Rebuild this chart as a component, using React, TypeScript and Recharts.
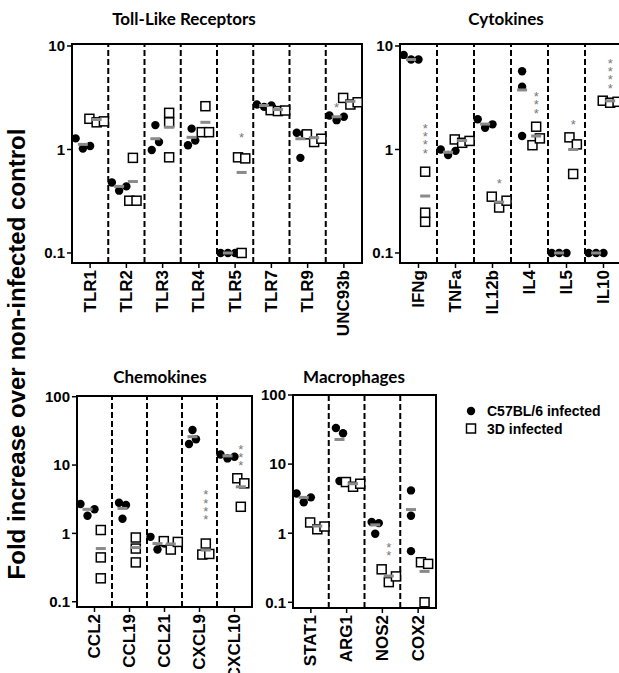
import React from "react";
import {
  ScatterChart, Scatter, XAxis, YAxis, ReferenceLine, ReferenceArea,
} from "recharts";

// Toll-like receptors
const tlrCats = ["TLR1", "TLR2", "TLR3", "TLR4", "TLR5", "TLR7", "TLR9", "UNC93b"];
const tlrC57 = [[1.28, 1.02, 1.08], [0.48, 0.4, 0.44], [0.99, 1.18, 1.72], [1.1, 1.22, 1.59], [0.1, 0.1, 0.1], [2.72, 2.58, 2.66], [1.45, 0.83, 1.42], [2.13, 1.92, 2.07]];
const tlr3D = [[1.98, 1.83, 1.87], [0.32, 0.83, 0.32], [2.26, 0.84, 1.83], [1.47, 1.47, 2.62], [0.84, 0.1, 0.82], [2.4, 2.35, 2.38], [1.4, 1.18, 1.27], [3.15, 2.72, 2.86]];
const tlrMeanC57 = [1.12, 0.44, 1.27, 1.31, 0.1, 2.66, 1.27, 2.07];
const tlrMean3D = [1.95, 0.49, 1.64, 1.83, 0.6, 2.43, 1.3, 2.92];
const tlrStars = [{ cat: 4, side: "3D", y: 1.34, n: 1 }, { cat: 7, side: "C57", y: 2.62, n: 1 }];

// Cytokines
const cytCats = ["IFNg", "TNFa", "IL12b", "IL4", "IL5", "IL10"];
const cytC57 = [[8.2, 7.4, 7.4], [1.0, 0.885, 0.97], [1.96, 1.62, 1.75], [5.7, 4.04, 1.35], [0.1, 0.1, 0.1], [0.1, 0.1, 0.1]];
const cyt3D = [[0.2, 0.245, 0.61], [1.25, 1.16, 1.21], [0.35, 0.275, 0.32], [1.1, 1.28, 1.66], [1.31, 0.58, 1.12], [2.96, 2.83, 2.89]];
const cytMeanC57 = [7.4, 0.94, 1.76, 3.76, 0.1, 0.1];
const cytMean3D = [0.355, 1.22, 0.31, 1.35, 1.0, 2.95];
const cytStars = [
  { cat: 0, side: "3D", y: 0.95, n: 4 }, { cat: 2, side: "3D", y: 0.48, n: 1 },
  { cat: 3, side: "3D", y: 2.32, n: 3 }, { cat: 4, side: "3D", y: 1.79, n: 1 },
  { cat: 5, side: "3D", y: 4.04, n: 4 },
];

// Chemokines
const chemCats = ["CCL2", "CCL19", "CCL21", "CXCL9", "CXCL10"];
const chemC57 = [[2.69, 1.81, 2.25], [1.64, 2.8, 2.6], [0.89, 0.58, 0.71], [20.3, 23.8, 32.5], [14.3, 12.5, 13.2]];
const chem3D = [[1.12, 0.445, 0.22], [0.87, 0.376, 0.6], [0.77, 0.58, 0.75], [0.71, 0.49, 0.5], [6.4, 2.45, 5.4]];
const chemMeanC57 = [2.25, 2.32, 0.71, 26, 13.6];
const chemMean3D = [0.6, 0.62, 0.7, 0.57, 4.8];
const chemStars = [{ cat: 3, side: "3D", y: 1.67, n: 4 }, { cat: 4, side: "3D", y: 10.3, n: 3 }];

// Macrophages
const macCats = ["STAT1", "ARG1", "NOS2", "COX2"];
const macC57 = [[3.76, 2.8, 3.3], [33.3, 5.7, 28], [1.45, 0.98, 1.4], [4.16, 1.79, 0.55]];
const mac3D = [[1.43, 1.14, 1.25], [5.5, 4.7, 5.2], [0.3, 0.196, 0.237], [0.38, 0.1, 0.36]];
const macMeanC57 = [3.3, 22.7, 1.32, 2.2];
const macMean3D = [1.27, 5.2, 0.24, 0.28];
const macStars = [{ cat: 2, side: "3D", y: 0.5, n: 2 }];

const ARIAL = "'Liberation Sans', Arial, sans-serif";
const C57_POS = 0.3;
const D3_POS = 0.68;
const STEP = 0.2;

// GraphPad-style spreading: points that would overlap sit side by side
function spread(vals: number[], ppd: number) {
  const root = vals.map((_, i) => i);
  const find = (i: number): number => (root[i] === i ? i : (root[i] = find(root[i])));
  for (let i = 0; i < vals.length; i++)
    for (let j = i + 1; j < vals.length; j++)
      if (Math.abs(Math.log10(vals[i]) - Math.log10(vals[j])) * ppd < 9) root[find(j)] = find(i);
  return vals.map((_, i) => {
    const members = vals.map((_, k) => k).filter((k) => find(k) === find(i));
    return members.indexOf(i) - (members.length - 1) / 2;
  });
}

function points(groups: number[][], pos: number, ppd: number) {
  const out: { x: number; y: number }[] = [];
  groups.forEach((vals, i) => {
    const offs = spread(vals, ppd);
    vals.forEach((v, j) => out.push({ x: i + pos + offs[j] * STEP, y: v }));
  });
  return out;
}

const Dot = (p: any) => <circle cx={p.cx} cy={p.cy} r={4.2} fill="#000" />;
const Box = (p: any) => (
  <rect x={p.cx - 4.5} y={p.cy - 4.5} width={9} height={9} fill="#fff" stroke="#000" strokeWidth={1.5} />
);
const MeanBar = (p: any) => <rect x={p.cx - 5} y={p.cy - 1.5} width={10} height={3} fill="#8a8a8a" />;
const StarStack = (p: any) => (
  <text textAnchor="middle" fontSize={13} fill="#777" fontFamily={ARIAL}>
    {Array.from({ length: p.payload.n }, (_, k) => (
      <tspan key={k} x={p.cx} y={p.cy + 6 - k * 8.3}>*</tspan>
    ))}
  </text>
);

function RotTick({ x, y, payload, labels }: any) {
  return (
    <text
      transform={`translate(${x},${y}) rotate(-90)`}
      textAnchor="end"
      dominantBaseline="central"
      fontSize={17}
      fontWeight="bold"
      fontFamily={ARIAL}
      fill="#000"
    >
      {labels[Math.floor(payload.value)]}
    </text>
  );
}

type PanelProps = {
  cats: string[]; c57: number[][]; d3: number[][]; meanC57: number[]; mean3D: number[];
  stars: { cat: number; side: string; y: number; n: number }[];
  left: number; top: number; width: number; height: number;
  margin: { top: number; right: number; bottom: number; left: number };
  yWidth: number; xHeight: number; domain: [number, number]; yTicks: number[]; ppd: number;
};

function Panel(p: PanelProps) {
  const n = p.cats.length;
  const centers = p.cats.map((_, i) => i + 0.5);
  const circles = points(p.c57, C57_POS, p.ppd);
  const squares = points(p.d3, D3_POS, p.ppd);
  const means = [
    ...p.meanC57.map((v, i) => ({ x: i + C57_POS, y: v })),
    ...p.mean3D.map((v, i) => ({ x: i + D3_POS, y: v })),
  ];
  const stars = p.stars.map((s) => ({ x: s.cat + (s.side === "3D" ? D3_POS : C57_POS), y: s.y, n: s.n }));
  return (
    <div style={{ position: "absolute", left: p.left, top: p.top }}>
      <ScatterChart width={p.width} height={p.height} margin={p.margin}>
        <XAxis
          type="number"
          dataKey="x"
          domain={[0, n]}
          allowDataOverflow
          ticks={centers}
          interval={0}
          height={p.xHeight}
          tickSize={5}
          axisLine={{ stroke: "#000", strokeWidth: 2 }}
          tickLine={{ stroke: "#000", strokeWidth: 1.5 }}
          tick={<RotTick labels={p.cats} />}
        />
        <YAxis
          type="number"
          dataKey="y"
          scale="log"
          domain={p.domain}
          allowDataOverflow
          ticks={p.yTicks}
          interval={0}
          width={p.yWidth}
          tickSize={5}
          axisLine={{ stroke: "#000", strokeWidth: 2 }}
          tickLine={{ stroke: "#000", strokeWidth: 1.5 }}
          tick={{ fontSize: 15, fontWeight: "bold", fill: "#000", fontFamily: ARIAL }}
        />
        {centers.slice(1).map((_, i) => (
          <ReferenceLine key={i} x={i + 1} stroke="#000" strokeWidth={2} strokeDasharray="6 3" />
        ))}
        <ReferenceArea x1={0} x2={n} y1={p.domain[0]} y2={p.domain[1]} fill="none" fillOpacity={0} stroke="#000" strokeWidth={2} />
        <Scatter data={circles} shape={Dot} isAnimationActive={false} />
        <Scatter data={squares} shape={Box} isAnimationActive={false} />
        <Scatter data={means} shape={MeanBar} isAnimationActive={false} />
        <Scatter data={stars} shape={StarStack} isAnimationActive={false} />
      </ScatterChart>
    </div>
  );
}

const titleStyle = { fontFamily: "Lato, sans-serif", fontWeight: 700, fontSize: 17 } as const;

export default function App() {
  return (
    <div style={{ position: "absolute", left: 0, top: 0, width: 619, height: 673, overflow: "hidden", background: "#fff" }}>
      <Panel
        cats={tlrCats} c57={tlrC57} d3={tlr3D} meanC57={tlrMeanC57} mean3D={tlrMean3D} stars={tlrStars}
        left={0} top={30} width={370} height={320} margin={{ top: 14, right: 8, bottom: 7, left: 42 }}
        yWidth={30} xHeight={80} domain={[0.08, 10.455]} yTicks={[0.1, 1, 10]} ppd={103.5}
      />
      <Panel
        cats={cytCats} c57={cytC57} d3={cyt3D} meanC57={cytMeanC57} mean3D={cytMean3D} stars={cytStars}
        left={370} top={30} width={252} height={320} margin={{ top: 14, right: 0, bottom: 7, left: 4 }}
        yWidth={26} xHeight={80} domain={[0.08, 10.455]} yTicks={[0.1, 1, 10]} ppd={103.5}
      />
      <Panel
        cats={chemCats} c57={chemC57} d3={chem3D} meanC57={chemMeanC57} mean3D={chemMean3D} stars={chemStars}
        left={0} top={380} width={260} height={293} margin={{ top: 16, right: 8, bottom: 2, left: 41 }}
        yWidth={36} xHeight={64} domain={[0.0837, 102.4]} yTicks={[0.1, 1, 10, 100]} ppd={68.3}
      />
      <Panel
        cats={macCats} c57={macC57} d3={mac3D} meanC57={macMeanC57} mean3D={macMean3D} stars={macStars}
        left={260} top={380} width={185} height={293} margin={{ top: 15, right: 9, bottom: 2, left: 7 }}
        yWidth={26} xHeight={63} domain={[0.0827, 100]} yTicks={[0.1, 1, 10, 100]} ppd={69.1}
      />
      <svg width={619} height={673} style={{ position: "absolute", left: 0, top: 0, pointerEvents: "none" }}>
        <text x={184} y={25} textAnchor="middle" style={titleStyle}>Toll-Like Receptors</text>
        <text x={506} y={25} textAnchor="middle" style={titleStyle}>Cytokines</text>
        <text x={160} y={383} textAnchor="middle" style={titleStyle}>Chemokines</text>
        <text x={354} y={383} textAnchor="middle" style={titleStyle}>Macrophages</text>
        <text
          transform="translate(25,354) rotate(-90)"
          textAnchor="middle"
          fontSize={24}
          fontWeight="bold"
          fontFamily={ARIAL}
          fill="#000"
        >
          Fold increase over non-infected control
        </text>
        <circle cx={471} cy={411} r={4.2} fill="#000" />
        <text x={487} y={416} fontSize={14} fontWeight="bold" fontFamily={ARIAL}>C57BL/6 infected</text>
        <rect x={466.5} y={424} width={9} height={9} fill="#fff" stroke="#000" strokeWidth={1.5} />
        <text x={487} y={434} fontSize={14} fontWeight="bold" fontFamily={ARIAL}>3D infected</text>
      </svg>
    </div>
  );
}
